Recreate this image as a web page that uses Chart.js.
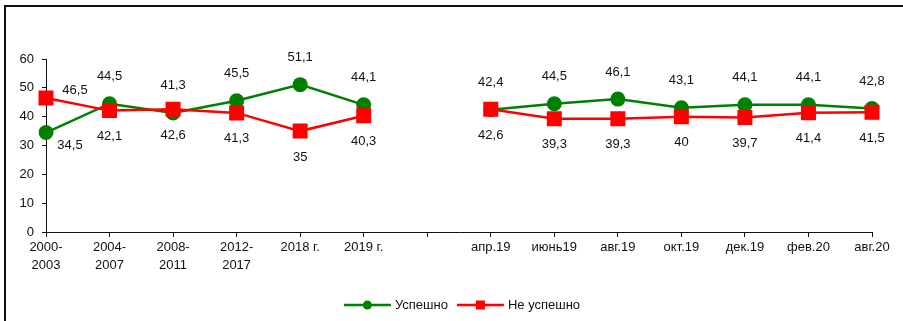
<!DOCTYPE html>
<html lang="ru">
<head>
<meta charset="utf-8">
<title>Успешно / Не успешно</title>
<script src="https://cdn.jsdelivr.net/npm/chart.js@4/dist/chart.umd.min.js"></script>
<style>
  html, body { margin: 0; padding: 0; background: #fff; }
  #wrap { position: relative; width: 903px; height: 321px; overflow: hidden; }
  #frame {
    position: absolute; left: 4px; top: 5px; width: 1000px; height: 400px;
    border-left: 2px solid #111; border-top: 2px solid #111; pointer-events: none;
  }
  canvas { position: absolute; left: 0; top: 0; }
</style>
</head>
<body>
<div id="wrap">
  <canvas id="chart" width="903" height="321"></canvas>
  <div id="frame"></div>
</div>
<script>
// Periods (multi-line labels); the empty entry separates yearly and monthly data
const categories = [
  ['2000-', '2003'], ['2004-', '2007'], ['2008-', '2011'], ['2012-', '2017'],
  '2018 г.', '2019 г.', '',
  'апр.19', 'июнь19', 'авг.19', 'окт.19', 'дек.19', 'фев.20', 'авг.20'
];

// Shares, %
const successValues    = [34.5, 44.5, 41.3, 45.5, 51.1, 44.1, null, 42.4, 44.5, 46.1, 43.1, 44.1, 44.1, 42.8];
const notSuccessValues = [46.5, 42.1, 42.6, 41.3, 35.0, 40.3, null, 42.6, 39.3, 39.3, 40.0, 39.7, 41.4, 41.5];

const seriesNames = ['Успешно', 'Не успешно'];
const yTicks = [0, 10, 20, 30, 40, 50, 60];

const GREEN = '#008000';
const RED = '#ff0000';
const FONT = '"Liberation Sans", Arial, sans-serif';

Chart.defaults.font.family = FONT;
Chart.defaults.font.size = 13;
Chart.defaults.color = '#111';

// Value label placement per series: default offset, plus per-index overrides
const labelPlacement = [
  { dx: 0, dy: -27, overrides: { 0: { dx: 24, dy: 13 } } },
  { dx: 0, dy: 26,  overrides: { 0: { dx: 29, dy: -8 } } }
];

const fmt = v => String(v).replace('.', ',');

const valueLabels = {
  id: 'valueLabels',
  afterDatasetsDraw(chart) {
    const ctx = chart.ctx;
    ctx.save();
    ctx.font = '13px ' + FONT;
    ctx.fillStyle = '#111';
    ctx.textAlign = 'center';
    ctx.textBaseline = 'middle';
    chart.data.datasets.forEach((ds, di) => {
      const meta = chart.getDatasetMeta(di);
      const place = labelPlacement[ds.seriesIndex];
      meta.data.forEach((pt, i) => {
        const v = ds.data[i];
        if (v === null || v === undefined) return;
        const o = place.overrides[i] || place;
        ctx.fillText(fmt(v), pt.x + o.dx, pt.y + o.dy);
      });
    });
    ctx.restore();
  }
};

// Legend in line-with-marker style, drawn under the axis
const lineLegend = {
  id: 'lineLegend',
  afterDraw(chart) {
    const ctx = chart.ctx;
    ctx.save();
    ctx.font = '13px ' + FONT;
    ctx.textBaseline = 'middle';
    const y = 305;
    const sym = 47, gapAfterSym = 4, gapBetween = 9;
    const items = [
      { name: seriesNames[0], color: GREEN, marker: 'circle' },
      { name: seriesNames[1], color: RED, marker: 'square' }
    ];
    let total = 0;
    items.forEach((it, k) => {
      it.w = ctx.measureText(it.name).width;
      total += sym + gapAfterSym + it.w + (k ? gapBetween : 0);
    });
    let x = (chart.chartArea.left + chart.chartArea.right) / 2 + 3 - total / 2;
    items.forEach((it, k) => {
      if (k) x += gapBetween;
      ctx.strokeStyle = it.color;
      ctx.lineWidth = 2.5;
      ctx.beginPath();
      ctx.moveTo(x, y);
      ctx.lineTo(x + sym, y);
      ctx.stroke();
      ctx.fillStyle = it.color;
      const cx = x + sym / 2;
      if (it.marker === 'circle') {
        ctx.beginPath();
        ctx.arc(cx, y, 4.5, 0, Math.PI * 2);
        ctx.fill();
      } else {
        ctx.fillRect(cx - 4.5, y - 4.5, 9, 9);
      }
      x += sym + gapAfterSym;
      ctx.fillStyle = '#111';
      ctx.textAlign = 'left';
      ctx.fillText(it.name, x, y);
      x += it.w;
    });
    ctx.restore();
  }
};

new Chart(document.getElementById('chart'), {
  type: 'line',
  data: {
    labels: categories,
    datasets: [
      {
        label: seriesNames[0],
        seriesIndex: 0,
        data: successValues,
        borderColor: GREEN,
        backgroundColor: GREEN,
        borderWidth: 2.5,
        pointStyle: 'circle',
        pointRadius: 7.5,
        pointBorderWidth: 0,
        pointBackgroundColor: GREEN,
        spanGaps: false,
        tension: 0,
        order: 1
      },
      {
        label: seriesNames[1],
        seriesIndex: 1,
        data: notSuccessValues,
        borderColor: RED,
        backgroundColor: RED,
        borderWidth: 2.5,
        pointStyle: 'rect',
        pointRadius: 10.6,
        pointBorderWidth: 0,
        pointBackgroundColor: RED,
        spanGaps: false,
        tension: 0,
        order: 0
      }
    ]
  },
  options: {
    responsive: false,
    animation: false,
    events: [],
    layout: { padding: { left: 0, top: 59, right: 31, bottom: 0 } },
    plugins: {
      legend: { display: false },
      tooltip: { enabled: false }
    },
    scales: {
      x: {
        offset: false,
        grid: {
          drawOnChartArea: false,
          drawTicks: true,
          tickLength: 5,
          color: '#111'
        },
        border: { display: true, color: '#111', width: 1 },
        ticks: {
          autoSkip: false,
          maxRotation: 0,
          minRotation: 0,
          padding: 2,
          color: '#111',
          font: { size: 13, lineHeight: 1.35 }
        },
        afterFit(scale) { scale.height = 89; }
      },
      y: {
        min: 0,
        max: 60,
        afterBuildTicks(scale) { scale.ticks = yTicks.map(v => ({ value: v })); },
        grid: {
          drawOnChartArea: false,
          drawTicks: true,
          tickLength: 4,
          color: '#111'
        },
        border: { display: true, color: '#111', width: 1 },
        ticks: {
          padding: 8,
          color: '#111',
          font: { size: 13 }
        },
        afterFit(scale) { scale.width = 46; }
      }
    }
  },
  plugins: [valueLabels, lineLegend]
});
</script>
</body>
</html>
